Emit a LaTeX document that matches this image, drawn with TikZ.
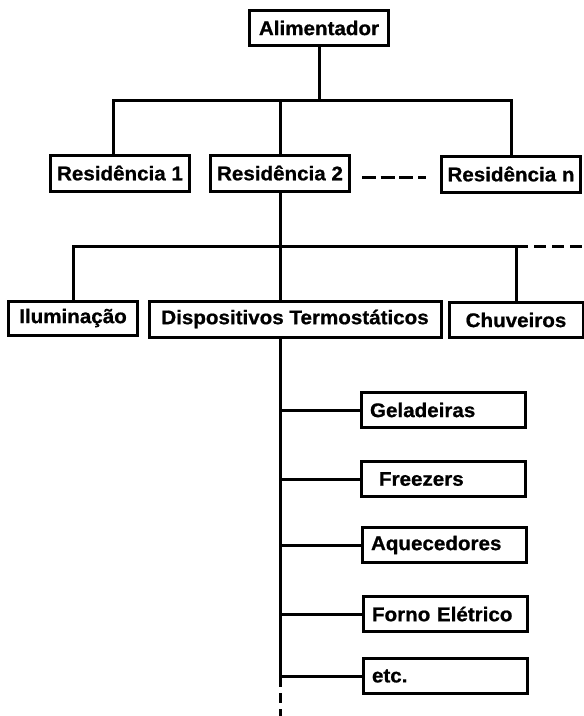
\documentclass[tikz,border=0pt]{standalone}
\usepackage{fontspec}
\setmainfont[FakeStretch=1.04, BoldFeatures={FakeBold=0.8}]{Liberation Sans}
\usepackage{tikz}
\usetikzlibrary{positioning}
\tikzset{
  box/.style={draw, line width=3pt, inner sep=0pt, font=\fontsize{19.8}{22}\selectfont\bfseries},
  item/.style={box, minimum height=35pt, text width=146pt, inner xsep=9pt, align=left},
  wire/.style={line width=3pt},
  dashes/.style={wire, dash pattern=on 12pt off 6pt}
}

\begin{document}
\begin{tikzpicture}[x=1pt, y=-1pt]
\useasboundingbox (0,0) rectangle (584,716);
% top level
\node[box, minimum width=139pt, minimum height=35pt] (ali) at (319,28) {Alimentador};
\node[box, minimum width=139pt, minimum height=36pt] (res1) at (120,173) {Residência 1};
\node[box, minimum width=139pt, minimum height=36pt] (res2) at (280,173) {Residência 2};
\node[box, minimum width=139pt, minimum height=36pt] (resn) at (511,174) {Residência n};
\coordinate (bus1) at (317,100);
\draw[wire] (ali.south) -- (ali.south |- bus1);
\draw[wire] ([xshift=-7pt]res1.north) |- (resn.north |- bus1) -- (resn.north);
\draw[wire] (res2.north) -- (res2.north |- bus1);
% the dots between the houses
\coordinate (gapl) at ([xshift=11pt, yshift=-4pt]res2.east);
\coordinate (gapr) at ([xshift=-14pt]resn.west);
\draw[wire, dash pattern=on 14pt off 4.7pt] (gapl) -- (gapl -| gapr);
% second level
\node[box, minimum width=129pt, minimum height=34pt] (ilu) at (73,318) {Iluminação};
\node[box, minimum width=292pt, minimum height=36pt] (dis) at (295,319) {Dispositivos Termostáticos};
\node[box, minimum width=134pt, minimum height=35pt] (chu) at (516,320) {Chuveiros};
\coordinate (bus2) at (280,246);
\coordinate (more) at (584,246);
\draw[wire] (res2.south) -- (res2.south |- dis.north);
\draw[wire] (ilu.north) |- (chu.north |- bus2) -- (chu.north);
\draw[dashes] (chu.north |- bus2) -- (more);
% thermostatic devices
\node[item] (gel) at (443,410) {Geladeiras};
\node[item] (fre) at (443,479) {\hspace*{9pt}Freezers};
\node[item] (aqu) at (444,545) {Aquecedores};
\node[item] (for) at (445,614) {Forno Elétrico};
\node[item] (etc) at (445,676) {etc.};
\coordinate (trunk) at (280,677);
\coordinate (tail) at (280,716);
\draw[wire] (res2.south |- dis.south) -- (trunk);
\draw[wire, dash pattern=on 10pt off 6pt] (trunk) -- (tail);
\foreach \n in {gel,fre,aqu,for,etc}
  \draw[wire] (\n.west -| trunk) -- (\n.west);
\end{tikzpicture}
\end{document}
